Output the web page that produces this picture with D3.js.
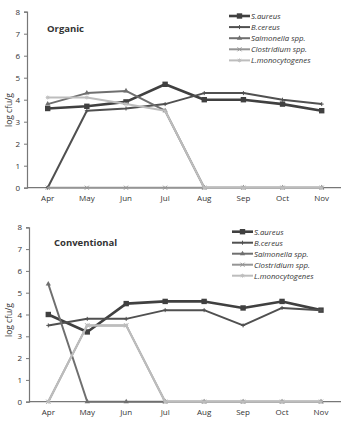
<!DOCTYPE html>
<html>
<head>
<meta charset="utf-8">
<script src="https://cdn.jsdelivr.net/npm/d3@7"></script>
<style>
body{margin:0;background:#fff;}
svg text{font-family:"Open Sans",sans-serif;fill:#333;}
</style>
</head>
<body>
<div id="chart"></div>
<script>
"use strict";

var months=["Apr","May","Jun","Jul","Aug","Sep","Oct","Nov"];
var y_ticks=[0,1,2,3,4,5,6,7,8];
var series_names=["S.aureus","B.cereus","Salmonella spp.","Clostridium spp.","L.monocytogenes"];

// organic
var org_saureus=[3.6,3.7,3.9,4.7,4.0,4.0,3.8,3.5];
var org_bcereus=[0,3.5,3.6,3.8,4.3,4.3,4.0,3.8];
var org_salmonella=[3.8,4.3,4.4,3.5,0,0,0,0];
var org_clostridium=[0,0,0,0,0,0,0,0];
var org_listeria=[4.1,4.1,3.8,3.5,0,0,0,0];

// conventional
var con_saureus=[4.0,3.2,4.5,4.6,4.6,4.3,4.6,4.2];
var con_bcereus=[3.5,3.8,3.8,4.2,4.2,3.5,4.3,4.2];
var con_salmonella=[5.4,0,0,0,0,0,0,0];
var con_clostridium=[0,3.5,3.5,0,0,0,0,0];
var con_listeria=[0,3.5,3.5,0,0,0,0,0];

var styles=[
    {color:"#404040",width:2.6,marker:"square"},
    {color:"#505050",width:2,marker:"plus"},
    {color:"#6f6f6f",width:2,marker:"triangle"},
    {color:"#959595",width:2,marker:"times"},
    {color:"#bdbdbd",width:2,marker:"star"}
];

var svg=d3.select("#chart").append("svg")
    .attr("width",341)
    .attr("height",422);

function draw_marker(g,type,x,y,color){
    if(type=="square"){
        g.append("rect").attr("x",x-2.7).attr("y",y-2.7)
            .attr("width",5.4).attr("height",5.4).attr("fill",color);
    }
    else if(type=="triangle"){
        g.append("path").attr("d",d3.symbol(d3.symbolTriangle,12)())
            .attr("transform","translate("+x+","+y+")").attr("fill",color);
    }
    else if(type=="plus"){
        g.append("path").attr("d","M"+(x-2)+","+y+"H"+(x+2)+"M"+x+","+(y-2)+"V"+(y+2))
            .attr("stroke",color).attr("stroke-width",1);
    }
    else if(type=="times"){
        g.append("path").attr("d","M"+(x-2)+","+(y-2)+"L"+(x+2)+","+(y+2)+"M"+(x-2)+","+(y+2)+"L"+(x+2)+","+(y-2))
            .attr("stroke",color).attr("stroke-width",1);
    }
    else{
        g.append("path").attr("d","M"+(x-2)+","+y+"H"+(x+2)+"M"+x+","+(y-2)+"V"+(y+2)+"M"+(x-1.6)+","+(y-1.6)+"L"+(x+1.6)+","+(y+1.6)+"M"+(x-1.6)+","+(y+1.6)+"L"+(x+1.6)+","+(y-1.6))
            .attr("stroke",color).attr("stroke-width",0.9);
    }
}

function draw_panel(p,datasets){
    var g=svg.append("g");

    var x=d3.scalePoint().domain(months).range([p.x0,p.x1]);
    var y=d3.scaleLinear().domain([0,8]).range([p.ybottom,p.ytop]);

    // y axis
    var yAxis=d3.axisLeft(y).tickValues(y_ticks).tickSize(3).tickPadding(4);
    var ya=g.append("g").attr("transform","translate("+p.axis_x+",0)").call(yAxis);
    ya.select(".domain").attr("stroke","#777").attr("stroke-width",1.2);
    ya.selectAll(".tick line").attr("stroke","#777");
    ya.selectAll("text").style("font-size","8px").attr("fill","#333");

    // x axis
    g.append("line")
        .attr("x1",p.axis_x).attr("x2",341)
        .attr("y1",y(0)).attr("y2",y(0))
        .attr("stroke","#777").attr("stroke-width",1.2);
    g.selectAll("text.month").data(months).enter().append("text")
        .attr("class","month")
        .attr("x",function(d){return x(d);})
        .attr("y",y(0)+13)
        .attr("text-anchor","middle")
        .style("font-size","8px")
        .text(function(d){return d;});

    // y title
    g.append("text")
        .attr("transform","translate(12,"+p.title_y+") rotate(-90)")
        .attr("text-anchor","middle")
        .style("font-size","8.5px")
        .text("log cfu/g");

    // panel label
    g.append("text")
        .attr("x",p.label_x).attr("y",p.label_y)
        .style("font-size","9.5px").style("font-weight","bold")
        .attr("fill","#111")
        .text(p.label);

    var line=d3.line()
        .x(function(d,i){return x(months[i]);})
        .y(function(d){return y(d);});

    for(var s=0;s<datasets.length;s++){
        var st=styles[s];
        g.append("path")
            .attr("d",line(datasets[s]))
            .attr("fill","none")
            .attr("stroke",st.color)
            .attr("stroke-width",st.width)
            .attr("stroke-linejoin","round");
        for(var i=0;i<datasets[s].length;i++){
            draw_marker(g,st.marker,x(months[i]),y(datasets[s][i]),st.color);
        }
    }

    // legend
    for(var k=0;k<series_names.length;k++){
        var ly=p.leg_y+k*p.leg_step;
        var st2=styles[k];
        g.append("line")
            .attr("x1",p.leg_x).attr("x2",p.leg_x+21)
            .attr("y1",ly).attr("y2",ly)
            .attr("stroke",st2.color).attr("stroke-width",st2.width);
        draw_marker(g,st2.marker,p.leg_x+10.5,ly,st2.color);
        g.append("text")
            .attr("x",p.leg_x+22).attr("y",ly+2.8)
            .style("font-size","7.8px").style("font-style","italic")
            .attr("fill","#444")
            .text(series_names[k]);
    }
}

draw_panel({x0:47.7,x1:321.7,ytop:11.7,ybottom:187.7,axis_x:27,title_y:110,
    label:"Organic",label_x:47,label_y:32,leg_x:229,leg_y:16,leg_step:11.1},
    [org_saureus,org_bcereus,org_salmonella,org_clostridium,org_listeria]);

draw_panel({x0:48.3,x1:321,ytop:227.3,ybottom:401.7,axis_x:29,title_y:320,
    label:"Conventional",label_x:54,label_y:246,leg_x:232,leg_y:231.7,leg_step:11},
    [con_saureus,con_bcereus,con_salmonella,con_clostridium,con_listeria]);
</script>
</body>
</html>
